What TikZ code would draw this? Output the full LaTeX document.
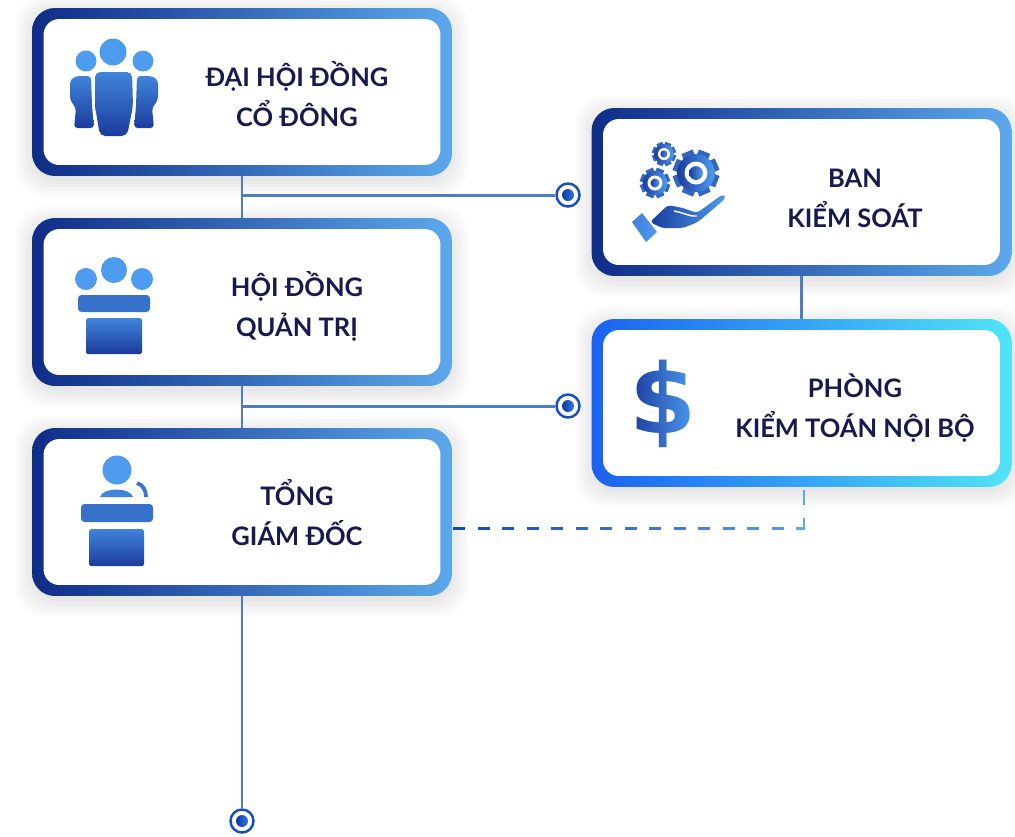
\documentclass[tikz,border=0pt]{standalone}
\usepackage{fontspec}
\setmainfont{Lato}
\newfontfamily\dollarfont{DejaVu Sans}
\usetikzlibrary{calc,fadings}

\definecolor{navy}{HTML}{0F2C86}
\definecolor{sky}{HTML}{5CA8EC}
\definecolor{royal}{HTML}{1A62F2}
\definecolor{aqua}{HTML}{50E4F6}
\definecolor{inkblue}{HTML}{17194F}
\definecolor{linkblue}{HTML}{4A7DC4}
\definecolor{icontop}{HTML}{4D9CF0}
\definecolor{iconlow}{HTML}{1B3C9C}

\tikzset{
	boxouter/.style={shape=rectangle, rounded corners=13pt, minimum width=8.4cm, minimum height=3.36cm, left color=navy, right color=sky},
	boxaudit/.style={boxouter, left color=royal, right color=aqua},
	boxinner/.style={shape=rectangle, fill=white, rounded corners=9pt, minimum width=7.94cm, minimum height=2.92cm},
	boxlabel/.style={align=center, font=\fontsize{14.5}{22.8}\selectfont\bfseries, text=inkblue},
	link/.style={line width=1.7pt, color=linkblue},
	dashlink/.style={line width=1.7pt},
	target/.style={shape=circle, draw=royal!60!navy, line width=1.4pt, fill=white, minimum size=0.46cm, inner sep=0pt},
	targetdot/.style={shape=circle, left color=navy!80!royal, right color=royal!70!sky, minimum size=0.24cm, inner sep=0pt},
	iconv/.style={top color=icontop!75!iconlow, bottom color=iconlow},
	iconh/.style={left color=iconlow, right color=icontop}
}

\def\orgbox#1#2#3#4#5#6#7{
	\foreach \s in {16,13,...,1}
		\fill[black, opacity=0.014, rounded corners=16pt] ($(#2)+(-210-\s,-84-\s+4)$) rectangle ($(#2)+(210+\s,84+\s+4)$);
	\node[#3] (#1) at (#2) {};
	\node[boxinner] (#1inner) at (#2) {};
	\node[boxlabel] (#1label) at (#4,#5) {#6\\#7};
}
\def\gearicon(#1)(#2){
	\foreach \a in {0,45,...,315}
		\draw[line width=#2*0.075pt*4, color=iconlow!55!icontop] (#1) -- ++(\a+22:#2);
	\shade[iconh] (#1) circle (#2*0.82);
	\fill[white] (#1) circle (#2*0.5);
	\shade[iconh] (#1) circle (#2*0.3);
}

\begin{tikzfadingfrompicture}[name=dollarfade]
	\node[text=transparent!0, font=\dollarfont\fontsize{55}{55}\selectfont\bfseries] (dollarglyph) {\$};
\end{tikzfadingfrompicture}

\begin{document}
\begin{tikzpicture}[x=0.02cm, y=-0.02cm]
			\useasboundingbox (0, 0) rectangle (1015, 836);
			%%%%% BOXES %%%%%
			
			\orgbox{shareholders}{242, 92}{boxouter}{297}{94}{ĐẠI HỘI ĐỒNG}{CỔ ĐÔNG}
			\orgbox{board}{242, 302}{boxouter}{297}{306}{HỘI ĐỒNG}{QUẢN TRỊ}
			\orgbox{director}{242, 512}{boxouter}{297}{513}{TỔNG}{GIÁM ĐỐC}
			\orgbox{supervisors}{801.5, 192}{boxouter}{855}{198}{BAN}{KIỂM SOÁT}
			\orgbox{audit}{801.5, 403}{boxaudit}{855}{408.5}{PHÒNG}{KIỂM TOÁN NỘI BỘ}
			
			%%%%% LINKS %%%%%
			
			\node[target] (targetsup) at (568, 195) {};
			\node[targetdot] (dotsup) at (568, 195) {};
			\node[target] (targetaud) at (568, 406) {};
			\node[targetdot] (dotaud) at (568, 406) {};
			\node[target] (targetend) at (242, 821) {};
			\node[targetdot] (dotend) at (242, 821) {};
			
			\coordinate (branchsup) at (242, 195);
			\coordinate (branchaud) at (242, 406);
			\draw[link] (shareholders.south) -- (board.north);
			\draw[link] (board.south) -- (director.north);
			\draw[link] (director.south) -- (targetend.north);
			\draw[link] (branchsup) -- (targetsup.west);
			\draw[link] (branchaud) -- (targetaud.west);
			\draw[link] (supervisors.south) -- (audit.north);
			
			\coordinate (dashstart) at (453, 528);
			\coordinate (dashcorner) at (804, 528);
			\coordinate (dashend) at (804, 490);
			\foreach \i in {0,...,13}{
				\pgfmathsetmacro{\mixval}{100-6.5*\i}
				\draw[dashlink, color=royal!50!navy!\mixval!sky] ($(dashstart)+(\i*24.5,0)$) -- ++(12,0);
			}
			\draw[dashlink, color=sky] ($(dashcorner)+(-8,0)$) -- (dashcorner) -- ++(0,-10);
			\draw[dashlink, color=sky] (dashend) -- ++(0,15);
			
			%%%%% PEOPLE %%%%%
			
			\fill[icontop] (113, 52) circle (13.5);
			\fill[icontop] (86, 61) circle (10.5);
			\fill[icontop] (143, 61) circle (10.5);
			\shade[iconv, rounded corners=3pt] (95, 72) -- (132, 72) -- (133, 106) -- (127, 136) -- (100, 136) -- (95, 106) -- cycle;
			\shade[iconv, rounded corners=2pt] (76, 76) -- (91, 76) -- (92, 106) -- (94, 128) -- (74, 128) -- (76, 108) -- (70, 100) -- (70, 80) -- cycle;
			\shade[iconv, rounded corners=2pt] (152, 76) -- (137, 76) -- (136, 106) -- (134, 128) -- (154, 128) -- (152, 108) -- (158, 100) -- (158, 80) -- cycle;
			
			%%%%% BOARD %%%%%
			
			\fill[icontop] (86, 279) circle (11);
			\fill[icontop] (114, 270) circle (13);
			\fill[icontop] (142, 279) circle (11);
			\fill[icontop!55!iconlow, rounded corners=2pt] (78, 295) rectangle (150, 312);
			\shade[iconv, rounded corners=1pt] (86, 318) rectangle (142, 354);
			
			%%%%% DIRECTOR %%%%%
			
			\fill[icontop] (117, 470) circle (14.5);
			\fill[icontop!75!iconlow] (100, 497) .. controls (103, 487) and (130, 487) .. (133, 497) -- cycle;
			\draw[line width=2.2pt, color=icontop!60!iconlow] (137, 483) .. controls (143, 485) and (146, 490) .. (146, 497);
			\fill[icontop!55!iconlow, rounded corners=2pt] (81, 504) rectangle (153, 522);
			\shade[iconv, rounded corners=1pt] (89, 529) rectangle (144, 566);
			
			%%%%% GEARS AND HAND %%%%%
			
			\gearicon(696, 173)(23)
			\gearicon(655, 183)(15)
			\gearicon(664, 154)(12)
			\shade[iconh, left color=icontop!70!iconlow] (632, 222) -- (642, 213) -- (657, 232) -- (646, 242) -- cycle;
			\shade[iconh, rounded corners=2pt] (650, 222) -- (668, 205) -- (683, 208) -- (697, 213) -- (723, 194) -- (726, 198) -- (698, 222) -- (683, 228) -- (662, 228) -- cycle;
			\draw[white, line width=0.8pt] (674, 211) .. controls (685, 213) and (690, 217) .. (697, 216);
			
			%%%%% DOLLAR %%%%%
			
			\shade[path fading=dollarfade, fit fading=false, fading transform={shift={(663, 404)}}, left color=iconlow, right color=icontop] (630, 350) rectangle (696, 458);
			
			%%%%% END %%%%%
\end{tikzpicture}
\end{document}
